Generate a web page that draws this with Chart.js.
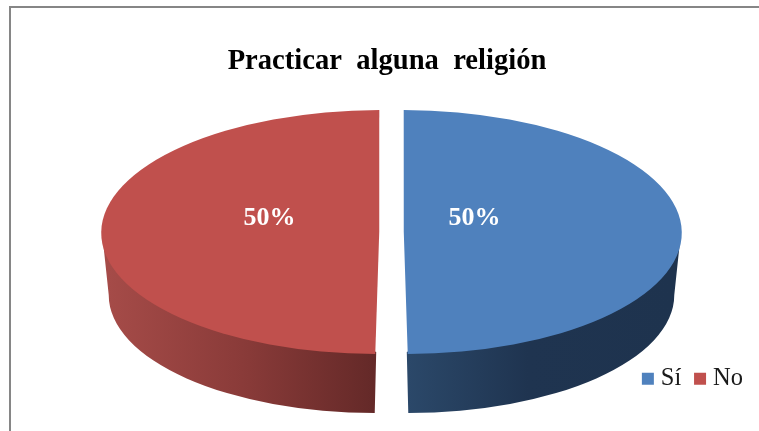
<!DOCTYPE html>
<html><head><meta charset="utf-8">
<style>
html,body{margin:0;padding:0;background:#fff;width:759px;height:431px;overflow:hidden}
#frame{position:absolute;left:9px;top:6px;width:750px;height:425px;border-top:2px solid #868686;border-left:2px solid #868686;box-sizing:border-box}
#wrap{position:absolute;left:0;top:0;width:759px;height:431px}
</style>
<script src="https://cdn.jsdelivr.net/npm/chart.js@4"></script>
</head><body>
<div id="frame"></div>
<div id="wrap"><canvas id="c" width="759" height="431"></canvas></div>
<script>
const chartTitle = 'Practicar  alguna  religión';
const categories = ['Sí', 'No'];
const values = [50, 50];
const colours = ['#4F81BD', '#C0504D'];
const sideStops = [
  [[0,'#2B4869'],[0.45,'#1F3450'],[1,'#1E334E']],
  [[0,'#642928'],[0.5,'#8A3B39'],[1,'#A54B48']]
];
const view = {cx:391.5, cy:232, rx:278, ry:122, shear:0.0165, lowerY:295, lowerRx:266, lowerRy:118, lowerShift:4.5};
const labelAnchor = [[83,-14],[-122,-14]];

const pie3d = {
  id:'pie3d',
  beforeDatasetsDraw(chart){
    const ctx = chart.ctx, arcs = chart.getDatasetMeta(0).data;
    arcs.forEach((arc,i)=>{
      const shift = arc.options.offset/4;           // how far the library pulls a slice out
      const R = arc.outerRadius + shift, sx = view.rx/R, sy = view.ry/R;
      const mid = (arc.startAngle+arc.endAngle)/2, dir = Math.cos(mid)>=0?1:-1;
      const x0 = view.cx + shift*sx*dir, y0 = view.cy, k = view.shear*dir;
      const xb = x0 + dir*view.lowerShift, yb = view.lowerY, botY = yb+view.lowerRy;
      const grad = ctx.createLinearGradient(xb, 0, xb+dir*view.lowerRx, 0);
      sideStops[i].forEach(s=>grad.addColorStop(s[0],s[1]));
      ctx.save();
      ctx.beginPath();
      ctx.moveTo(x0+dir*(view.rx-1), y0+2);
      ctx.lineTo(xb+dir*view.lowerRx, yb);
      if(dir>0) ctx.ellipse(xb, yb, view.lowerRx, view.lowerRy, 0, 0, Math.PI/2);
      else ctx.ellipse(xb, yb, view.lowerRx, view.lowerRy, 0, Math.PI, Math.PI/2, true);
      ctx.lineTo(xb, botY);
      ctx.lineTo(x0+k*view.ry+dir, y0+view.ry-2);
      ctx.closePath();
      ctx.fillStyle = grad; ctx.fill();
      ctx.restore();
      if(!arc._tilted){
        const base = Object.getPrototypeOf(arc).draw;
        arc.draw = function(c,area){
          c.save();
          c.transform(sx,0,k*sy,sy,view.cx-sx*this.x-k*sy*this.y,view.cy-sy*this.y);
          base.call(this,c,area);
          c.restore();
        };
        arc._tilted = true;
      }
    });
  },
  afterDatasetsDraw(chart){
    const ctx = chart.ctx;
    ctx.save();
    ctx.font = 'bold 26px "Liberation Serif"';
    ctx.fillStyle = '#fff'; ctx.textAlign='center'; ctx.textBaseline='middle';
    values.forEach((v,i)=>ctx.fillText(v+'%', view.cx+labelAnchor[i][0], view.cy+labelAnchor[i][1]));
    ctx.restore();
  }
};

new Chart(document.getElementById('c'),{
  type:'pie',
  data:{labels:categories,datasets:[{data:values,backgroundColor:colours,borderWidth:0,offset:22,clip:false}]},
  options:{
    responsive:false,animation:false,
    layout:{padding:{left:13,right:-2,top:44,bottom:30}},
    plugins:{
      tooltip:{enabled:false},
      title:{display:true,text:chartTitle,color:'#000',font:{family:'"Liberation Serif"',size:28.6,weight:'bold'},padding:{top:0,bottom:10}},
      legend:{position:'bottom',align:'end',labels:{usePointStyle:true,pointStyle:'rect',boxWidth:1.5,boxHeight:12,padding:18,color:'#1a1a1a',font:{family:'"Liberation Serif"',size:24.5}}}
    }
  },
  plugins:[pie3d]
});
</script>
</body></html>
